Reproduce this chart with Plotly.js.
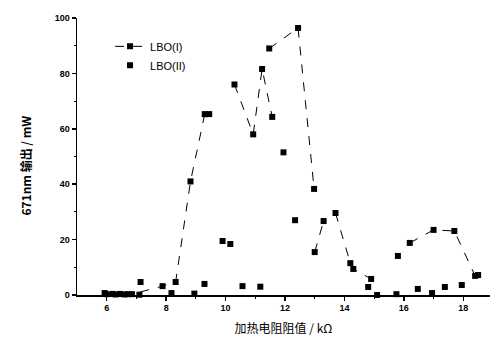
<!DOCTYPE html>
<html>
<head>
<meta charset="utf-8">
<script src="https://cdn.plot.ly/plotly-3.0.1.min.js"></script>
<style>html,body{margin:0;padding:0;background:#fff;}#chart{width:493px;height:340px;}</style>
</head>
<body>
<div id="chart"></div>
<script>
// LBO(I): dashed line with square markers (null = gap in the drawn line)
const lbo1X = [5.93, 6.2, 6.45, 6.7, 6.85, 7.88, 8.32, 8.82, 9.3, 9.45, null, 10.3, 10.93, 11.23, 11.57, null, 11.47, 12.44, 12.98, null, 13.0, 13.3, null, 13.7, 14.2, 14.3, 14.9, null, 15.8, null, 16.2, 17.0, 17.7, 18.4, 18.5];
const lbo1Y = [0.7, 0.4, 0.4, 0.3, 0.3, 3.2, 4.7, 41, 65.3, 65.3, null, 76, 58, 81.6, 64.3, null, 89, 96.4, 38.3, null, 15.5, 26.7, null, 29.6, 11.5, 9.4, 5.8, null, 14.1, null, 18.8, 23.5, 23.1, 6.9, 7.2];
// LBO(II): markers only
const lbo2X = [6.0, 6.3, 6.6, 7.1, 7.14, 8.18, 8.95, 9.29, 9.9, 10.16, 10.57, 11.17, 11.95, 12.34, 14.8, 15.1, 15.75, 16.47, 16.95, 17.38, 17.95];
const lbo2Y = [0.3, 0.2, 0.2, 0.1, 4.7, 0.7, 0.5, 4.0, 19.5, 18.4, 3.2, 3.0, 51.5, 27, 2.9, 0, 0.3, 2.2, 0.7, 2.9, 3.6];
const xTicks = [6, 8, 10, 12, 14, 16, 18];
const yTicks = [0, 20, 40, 60, 80, 100];
const names = ['LBO(I)', 'LBO(II)'];
const xTitle = '加热电阻阻值 / kΩ';
const yTitle = '671nm 输出 / mW';

const tickFont = {family: 'Liberation Sans, Arial, sans-serif', size: 9, color: '#000', weight: 'bold'};
const traces = [
  {x: lbo1X, y: lbo1Y, name: names[0], type: 'scatter', mode: 'lines+markers', connectgaps: false,
   line: {color: '#000', width: 1, dash: 'dash'}, marker: {symbol: 'square', size: 6, color: '#000'}, cliponaxis: false},
  {x: lbo2X, y: lbo2Y, name: names[1], type: 'scatter', mode: 'markers',
   marker: {symbol: 'square', size: 6, color: '#000'}, cliponaxis: false}
];
const layout = {
  width: 493, height: 340,
  margin: {l: 77, r: 3, t: 18, b: 45},
  paper_bgcolor: '#fff', plot_bgcolor: '#fff',
  showlegend: true,
  legend: {x: 0.08, y: 0.95, xanchor: 'left', yanchor: 'top', bgcolor: 'rgba(0,0,0,0)',
           font: {family: 'Liberation Sans, Arial, sans-serif', size: 11, color: '#000'},
           tracegroupgap: 2, itemwidth: 30},
  xaxis: {range: [5, 18.9], showgrid: false, zeroline: false, showline: true, linecolor: '#000', linewidth: 1.5,
          ticks: 'outside', ticklen: 4, tickwidth: 1.5, tickcolor: '#000', tickvals: xTicks, ticktext: xTicks.map(String),
          tickfont: tickFont,
          minor: {tickvals: [7, 9, 11, 13, 15, 17], ticks: 'outside', ticklen: 2, tickwidth: 1, tickcolor: '#000'},
          title: {text: xTitle, font: {family: 'Noto Sans CJK SC, sans-serif', size: 12, color: '#000'}, standoff: 12}},
  yaxis: {range: [0, 100], showgrid: false, zeroline: false, showline: true, linecolor: '#000', linewidth: 1.5,
          ticks: 'outside', ticklen: 4, tickwidth: 1.5, tickcolor: '#000', tickvals: yTicks, ticktext: yTicks.map(String),
          tickfont: tickFont,
          minor: {tickvals: [10, 30, 50, 70, 90], ticks: 'outside', ticklen: 2, tickwidth: 1, tickcolor: '#000'}},
  annotations: [{text: yTitle, xref: 'paper', yref: 'paper', x: (15 - 77) / 413, y: 0.469, textangle: -90,
                 showarrow: false, font: {family: 'Noto Sans CJK SC, sans-serif', size: 12, color: '#000', weight: 'bold'}}]
};
Plotly.newPlot('chart', traces, layout, {displayModeBar: false, staticPlot: true});
</script>
</body>
</html>
